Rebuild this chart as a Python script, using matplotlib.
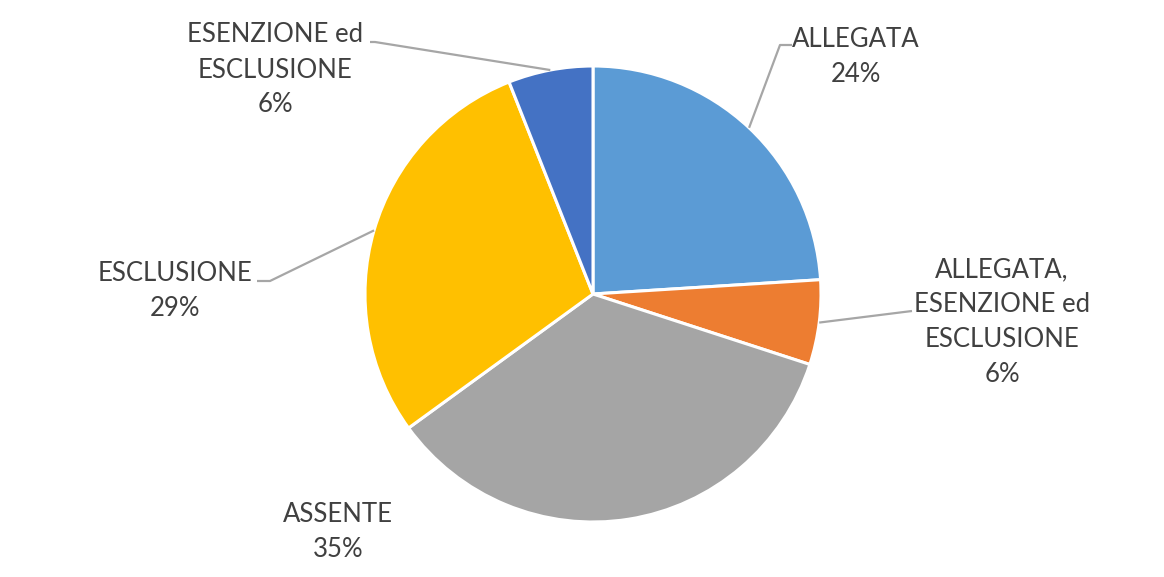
import numpy as np
import matplotlib
matplotlib.use("Agg")
import matplotlib.pyplot as plt

labels = ["ALLEGATA", "ALLEGATA,\nESENZIONE ed\nESCLUSIONE", "ASSENTE",
          "ESCLUSIONE", "ESENZIONE ed\nESCLUSIONE"]
values = [24, 6, 35, 29, 6]
colors = ["#5B9BD5", "#ED7D31", "#A5A5A5", "#FFC000", "#4472C4"]

# label block centres (pixels, y measured from top) and leader knee points
label_pos = [(856, 57), (1002, 322), (338, 532), (175, 291), (275, 70)]
knees = [[(780, 45), (792, 45)], [(912, 311)], None,
         [(270, 281), (257, 281)], [(375, 42), (370, 42)]]

W, H = 1164, 577
cx, cy, r = 593, 294, 228

plt.rcParams['font.family'] = ['Lato', 'DejaVu Sans']
fig = plt.figure(figsize=(W / 100, H / 100), dpi=100)
ax = fig.add_axes([0, 0, 1, 1])
ax.set_xlim(0, W)
ax.set_ylim(0, H)
ax.set_aspect("equal")
ax.axis("off")

wedges, _ = ax.pie(values, colors=colors, startangle=90, counterclock=False,
                   center=(cx, H - cy), radius=r,
                   wedgeprops=dict(edgecolor="white", linewidth=2.2))
ax.set_xlim(0, W)
ax.set_ylim(0, H)

total = sum(values)
cum = 0
for lab, v, pos, kn in zip(labels, values, label_pos, knees):
    mid = 90 - (cum + v / 2) / total * 360
    cum += v
    pct = round(v / total * 100)
    ax.text(pos[0], H - pos[1], f"{lab}\n{pct}%", ha="center", va="center",
            fontsize=18.5, color="#404040", linespacing=1.5)
    if kn is None:
        continue
    ex = cx + r * np.cos(np.radians(mid))
    ey = H - cy + r * np.sin(np.radians(mid))
    xs = [ex] + [p[0] for p in kn]
    ys = [ey] + [H - p[1] for p in kn]
    ax.plot(xs, ys, color="#A6A6A6", lw=1.6, solid_capstyle="butt")

fig.savefig("out.png", dpi=100, facecolor="white")
